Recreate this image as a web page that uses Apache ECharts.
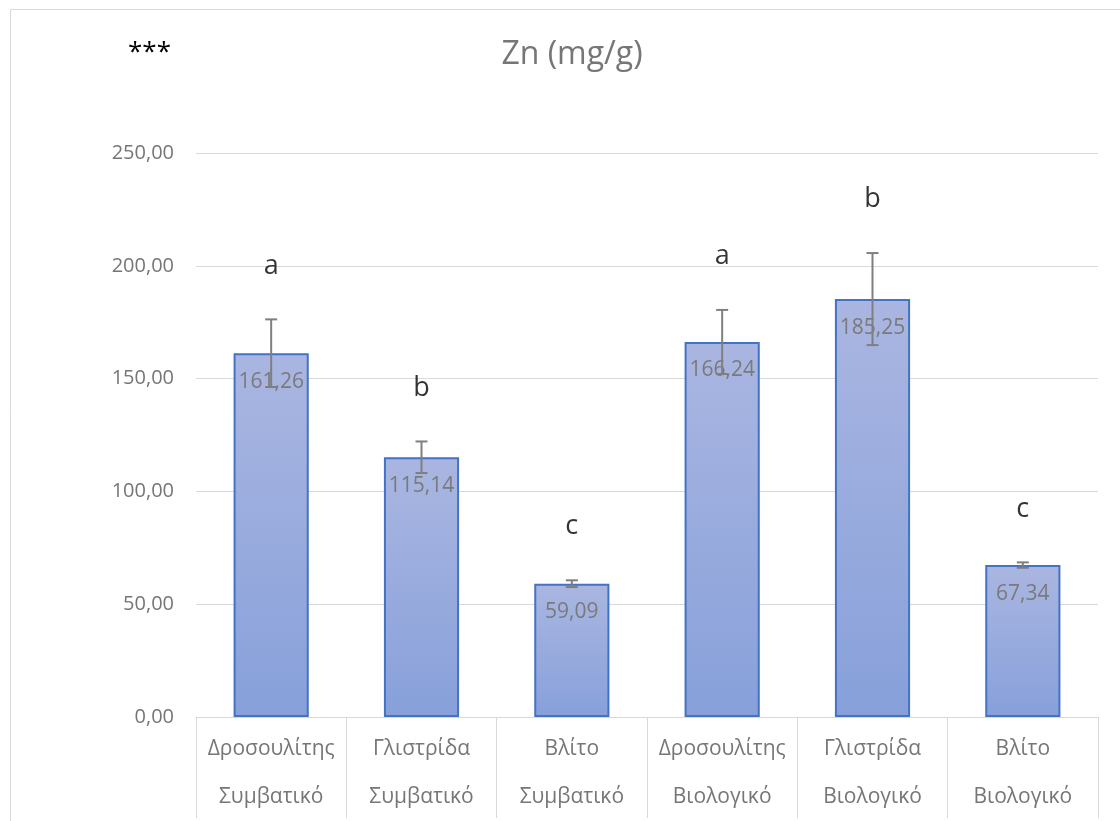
<!DOCTYPE html>
<html>
<head>
<meta charset="utf-8">
<script src="https://cdn.jsdelivr.net/npm/echarts@6/dist/echarts.min.js"></script>
<style>
html,body{margin:0;padding:0;background:#fff;}
#c{width:1120px;height:821px;}
</style>
</head>
<body>
<div id="c"></div>
<script>
const plants = ['Δροσουλίτης','Γλιστρίδα','Βλίτο','Δροσουλίτης','Γλιστρίδα','Βλίτο'];
const systems = ['Συμβατικό','Συμβατικό','Συμβατικό','Βιολογικό','Βιολογικό','Βιολογικό'];
const values = [161.26, 115.14, 59.09, 166.24, 185.25, 67.34];
const errors = [15.0, 7.0, 1.5, 14.2, 20.4, 1.2];
const letters = ['a','b','c','a','b','c'];
const yTicks = [0, 50, 100, 150, 200, 250];

const categories = plants.map((p, i) => p + '\n' + systems[i]);
const fmt = v => v.toFixed(2).replace('.', ',');
const FONT = '"Open Sans", "Noto Sans", sans-serif';

const chart = echarts.init(document.getElementById('c'), null, {renderer: 'canvas'});
chart.setOption({
  backgroundColor: '#fff',
  animation: false,
  graphic: [
    {type: 'rect', shape: {x: 10.5, y: 9.5, width: 1200, height: 900},
     style: {fill: 'none', stroke: '#d9d9d9', lineWidth: 1}, z: -1},
    {type: 'text', left: 128, top: 40,
     style: {text: '***', fontSize: 26, fill: '#000', fontFamily: FONT}}
  ],
  title: {
    text: 'Zn (mg/g)', left: 567, top: 34, textAlign: 'center',
    textStyle: {fontSize: 32, fontWeight: 'normal', color: '#767676', fontFamily: FONT}
  },
  grid: {left: 196, right: 22, top: 153, bottom: 97, containLabel: false},
  xAxis: {
    type: 'category', data: categories,
    axisLine: {lineStyle: {color: '#d9d9d9', width: 1}},
    axisTick: {show: true, length: 101, interval: 0, lineStyle: {color: '#d9d9d9'}},
    axisLabel: {interval: 0, color: '#767676', fontSize: 21, fontFamily: FONT,
      lineHeight: 48, margin: 8}
  },
  yAxis: {
    type: 'value', min: yTicks[0], max: yTicks[yTicks.length - 1], interval: 50,
    axisLine: {show: false}, axisTick: {show: false},
    axisLabel: {color: '#767676', fontSize: 20, fontFamily: FONT, margin: 22,
      formatter: v => fmt(v)},
    splitLine: {lineStyle: {color: '#d9d9d9', width: 1}}
  },
  series: [
    {
      type: 'bar', data: values, barWidth: '50%',
      itemStyle: {
        color: new echarts.graphic.LinearGradient(0, 0, 0, 1, [
          {offset: 0, color: '#aab6e1'},
          {offset: 1, color: '#87a0da'}
        ]),
        borderColor: '#4472c4', borderWidth: 2
      },
      label: {show: true, position: 'insideTop', distance: 18, color: '#7a7a7a',
        fontSize: 21, fontFamily: FONT, formatter: p => fmt(p.value)},
      z: 2
    },
    {
      type: 'custom', z: 5,
      data: values.map((v, i) => [i, v - errors[i], v + errors[i]]),
      renderItem: function (params, api) {
        const x = api.coord([api.value(0), 0])[0];
        const lo = api.coord([api.value(0), api.value(1)])[1];
        const hi = api.coord([api.value(0), api.value(2)])[1];
        const w = 6;
        const st = {stroke: '#7f7f7f', lineWidth: 2, fill: 'none'};
        return {type: 'group', children: [
          {type: 'line', shape: {x1: x, y1: lo, x2: x, y2: hi}, style: st},
          {type: 'line', shape: {x1: x - w, y1: lo, x2: x + w, y2: lo}, style: st},
          {type: 'line', shape: {x1: x - w, y1: hi, x2: x + w, y2: hi}, style: st}
        ]};
      },
      encode: {x: 0, y: [1, 2]}
    },
    {
      type: 'scatter', symbolSize: 0, z: 6,
      data: values.map((v, i) => [i, v + errors[i]]),
      label: {show: true, position: 'top', distance: 40, color: '#000',
        fontSize: 27, fontFamily: FONT, formatter: p => letters[p.dataIndex]}
    }
  ]
});
</script>
</body>
</html>
